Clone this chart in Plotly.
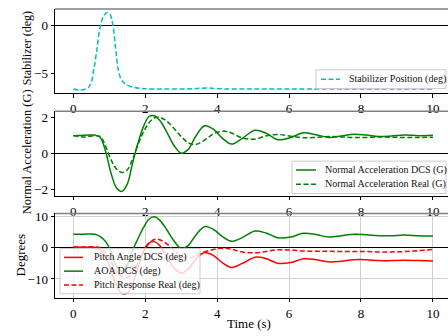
import plotly.graph_objects as go

# ---------------- data ----------------
t_stab = [0, 0.15, 0.3, 0.42, 0.5, 0.55, 0.65, 0.75, 0.85, 0.95, 1.02, 1.1, 1.18, 1.25,
          1.32, 1.42, 1.6, 1.9, 2.5, 3.2, 3.7, 4.2, 5, 6, 7, 8, 9, 10]
stabilizer = [-6.6, -6.7, -6.65, -6.45, -5.9, -5.0, -2.6, 0.0, 1.1, 1.4, 1.2, 0.1, -2.5, -4.6,
              -5.5, -6.0, -6.35, -6.55, -6.6, -6.6, -6.5, -6.6, -6.6, -6.6, -6.6, -6.6, -6.6, -6.6]

t = [0, 0.3, 0.6, 0.75, 0.9, 1.05, 1.2, 1.35, 1.5, 1.65, 1.8, 1.95, 2.1, 2.25, 2.4, 2.6,
     2.8, 3.0, 3.2, 3.4, 3.65, 3.9, 4.15, 4.4, 4.7, 5.05, 5.35, 5.7, 6.05, 6.4, 6.75, 7.1,
     7.45, 7.8, 8.15, 8.5, 8.85, 9.2, 9.6, 10]

nz_dcs = [1.0, 1.02, 1.03, 0.9, 0.1, -1.1, -1.9, -2.1, -1.7, -0.5, 0.6, 1.5, 2.05, 2.1, 1.85, 1.2,
          0.45, 0.02, 0.25, 0.95, 1.55, 1.35, 0.85, 0.53, 0.85, 1.3, 1.15, 0.77, 0.9, 1.16, 1.05, 0.9,
          0.98, 1.08, 1.03, 0.95, 0.98, 1.04, 1.0, 1.02]
nz_real = [1.0, 0.92, 1.0, 0.95, 0.4, -0.35, -0.85, -1.05, -0.9, -0.3, 0.5, 1.2, 1.7, 1.98, 2.02, 1.8,
           1.4, 0.95, 0.6, 0.5, 0.75, 1.1, 1.25, 1.15, 0.87, 0.8, 0.98, 1.06, 0.97, 0.88, 0.9, 0.95,
           0.93, 0.9, 0.9, 0.92, 0.91, 0.9, 0.9, 0.91]

pitch_dcs = [0.2, 0.2, 0.1, -0.6, -3.0, -7.5, -12.0, -14.6, -14.5, -11.5, -6.5, -1.0, 1.5, 2.0, 0.8, -2.8,
             -6.5, -8.1, -6.8, -3.8, -1.5, -2.5, -4.8, -6.3, -5.0, -3.0, -3.4, -5.0, -4.7, -3.5, -3.8, -4.5,
             -4.3, -3.8, -3.8, -4.1, -4.1, -4.0, -4.1, -4.2]
aoa_dcs = [4.4, 4.4, 4.4, 3.6, 2.0, -1.2, -6.0, -7.5, -5.5, -0.8, 3.0, 6.5, 9.2, 10.0, 8.9, 5.8,
           2.2, -0.2, 0.8, 4.0, 6.8, 5.9, 3.6, 2.1, 3.3, 5.4, 4.8, 3.2, 3.5, 4.7, 4.3, 3.5,
           3.9, 4.4, 4.2, 3.9, 3.9, 4.1, 3.9, 3.8]
pitch_real = [0.3, 0.3, 0.3, 0.0, -1.5, -4.5, -7.5, -9.2, -9.5, -7.8, -4.5, -1.2, 1.3, 2.7, 2.6, 1.3,
              -0.8, -2.6, -3.2, -2.6, -1.3, -0.5, -0.1, -0.4, -1.3, -1.6, -1.2, -0.6, -0.7, -1.0, -1.1, -1.1,
              -1.2, -1.2, -1.2, -1.3, -1.3, -1.2, -0.9, -0.5]

x_ticks = [0, 2, 4, 6, 8, 10]

# ---------------- styling ----------------
W, H = 448, 336
FONT = "Liberation Serif"
CYAN, GREEN, RED = "#00bfbf", "#008000", "#ff0000"
DASH = "5px,2.5px"

x0 = 55 / W
panels = [(5, 90.7), (109.3, 195), (213.3, 299)]  # (top px, bottom px)
yranges = [[-7.03, 1.78], [-2.33, 2.35], [-16.0, 11.04]]
yticks = [[-5, 0], [-2, 0, 2], [-10, 0, 10]]

fig = go.Figure()

def add(x, y, name, color, dash, idx):
    fig.add_trace(go.Scatter(
        x=x, y=y, name=name, mode="lines", showlegend=False,
        line=dict(color=color, width=1.5, dash=dash, shape="spline", smoothing=1.0),
        xaxis="x" if idx == 1 else f"x{idx}",
        yaxis="y" if idx == 1 else f"y{idx}",
    ))

series = [
    (t_stab, stabilizer, "Stabilizer Position (deg)", CYAN, DASH, 1),
    (t, nz_dcs, "Normal Acceleration DCS (G)", GREEN, "solid", 2),
    (t, nz_real, "Normal Acceleration Real (G)", GREEN, DASH, 2),
    (t, pitch_dcs, "Pitch Angle DCS (deg)", RED, "solid", 3),
    (t, aoa_dcs, "AOA DCS (deg)", GREEN, "solid", 3),
    (t, pitch_real, "Pitch Response Real (deg)", RED, DASH, 3),
]
for s in series:
    add(*s)

layout = dict(
    width=W, height=H,
    margin=dict(l=0, r=0, t=0, b=0),
    paper_bgcolor="white", plot_bgcolor="white",
    font=dict(family=FONT, size=12, color="black"),
    showlegend=False,
    shapes=[], annotations=[],
)

for i, ((top, bot), yr, yt) in enumerate(zip(panels, yranges, yticks), start=1):
    sfx = "" if i == 1 else str(i)
    grid = (i == 3)
    layout[f"xaxis{sfx}"] = dict(
        domain=[x0, 1.0], range=[-0.51, 10.42], anchor=f"y{sfx}",
        tickvals=x_ticks, ticks="outside", ticklen=3.5, tickwidth=1, tickcolor="black",
        showline=True, linecolor="black", linewidth=1, mirror=False,
        showgrid=grid, gridcolor="#cfcfcf", gridwidth=1.2, zeroline=False,
        tickfont=dict(family=FONT, size=13),
    )
    layout[f"yaxis{sfx}"] = dict(
        domain=[1 - bot / H, 1 - top / H], range=yr, anchor=f"x{sfx}",
        tickvals=yt, ticks="outside", ticklen=3.5, tickwidth=1, tickcolor="black",
        showline=True, linecolor="black", linewidth=1,
        showgrid=grid, gridcolor="#cfcfcf", gridwidth=1.2,
        zeroline=True, zerolinecolor="black", zerolinewidth=1.3,
        tickfont=dict(family=FONT, size=13),
    )
    layout["shapes"].append(dict(
        type="line", xref="paper", yref="paper", x0=x0, x1=1.0,
        y0=1 - top / H, y1=1 - top / H, line=dict(color="#808080", width=1.5),
    ))

# ---------------- legends (matplotlib-style boxes) ----------------
def legend_box(left, top, right, bottom, entries, samp_x0, samp_x1, text_x):
    layout["shapes"].append(dict(
        type="rect", xref="paper", yref="paper",
        x0=left / W, x1=right / W, y0=1 - bottom / H, y1=1 - top / H,
        fillcolor="rgba(255,255,255,0.8)", line=dict(color="#cccccc", width=1),
    ))
    for (label, color, dash, ypx) in entries:
        layout["shapes"].append(dict(
            type="line", xref="paper", yref="paper",
            x0=samp_x0 / W, x1=samp_x1 / W, y0=1 - ypx / H, y1=1 - ypx / H,
            line=dict(color=color, width=1.5, dash=dash),
        ))
        layout["annotations"].append(dict(
            text=label, xref="paper", yref="paper", x=text_x / W, y=1 - ypx / H,
            xanchor="left", yanchor="middle", showarrow=False,
            font=dict(family=FONT, size=10, color="#111"),
        ))

legend_box(316, 67, 446, 86,
           [(series[0][2], CYAN, DASH, 76.5)], 321, 340, 347)
legend_box(292, 160, 446, 193,
           [(series[1][2], GREEN, "solid", 169),
            (series[2][2], GREEN, DASH, 183.5)], 296, 316, 323)
legend_box(60, 249, 200, 295,
           [(series[3][2], RED, "solid", 258),
            (series[4][2], GREEN, "solid", 272),
            (series[5][2], RED, DASH, 286)], 64, 83, 92)

def ylabel(text, xpx, ypx, size):
    layout["annotations"].append(dict(
        text=text, xref="paper", yref="paper", x=xpx / W, y=1 - ypx / H,
        xanchor="center", yanchor="middle", textangle=-90, showarrow=False,
        font=dict(family=FONT, size=size, color="black"),
    ))

ylabel("Stabilizer (deg)", 27, 45, 12)
ylabel("Normal Acceleration (G)", 27, 151, 12.5)
ylabel("Degrees", 20, 256, 13)
layout["annotations"].append(dict(
    text="Time (s)", xref="paper", yref="paper", x=249 / W, y=1 - 325 / H,
    xanchor="center", yanchor="middle", showarrow=False,
    font=dict(family=FONT, size=13, color="black"),
))

fig.update_layout(**layout)
fig.write_html("out.html")
